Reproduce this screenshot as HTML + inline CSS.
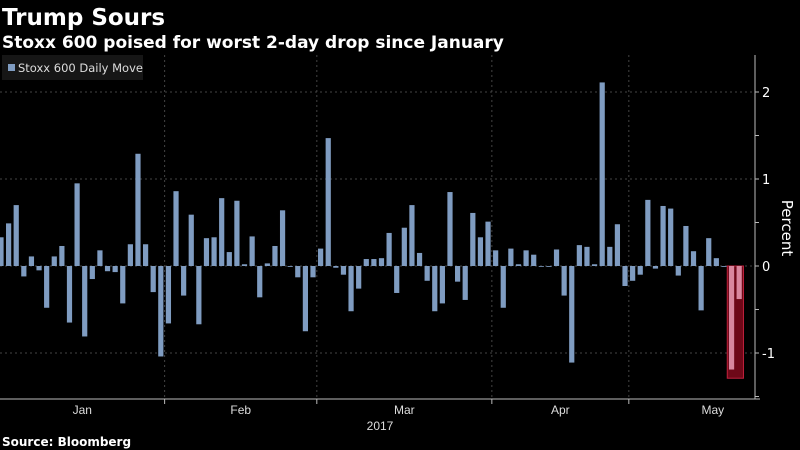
<!DOCTYPE html>
<html><head><meta charset="utf-8"><style>
body{margin:0;background:#000;width:800px;height:450px;overflow:hidden;font-family:"Liberation Sans","DejaVu Sans",sans-serif;}
svg{display:block}
</style></head><body>
<svg width="800" height="450" xmlns="http://www.w3.org/2000/svg">
<text x="2" y="25" fill="#fff" font-size="23" font-weight="bold" font-family="DejaVu Sans, sans-serif">Trump Sours</text>
<text x="2" y="48" fill="#fff" font-size="17" font-weight="bold" font-family="DejaVu Sans, sans-serif">Stoxx 600 poised for worst 2-day drop since January</text>
<g id="grid"></g>
<g id="bars"></g>
<g id="axes"></g>
<g>
<rect x="2" y="55" width="141" height="25" fill="#161616"/>
<rect x="8" y="64" width="7" height="7" fill="#7f9cc1"/>
<text x="18" y="72" fill="#ddd" font-size="11.5" font-family="DejaVu Sans, sans-serif">Stoxx 600 Daily Move</text>
</g>
<text x="2" y="446" fill="#fff" font-size="12" font-weight="bold" font-family="DejaVu Sans, sans-serif">Source: Bloomberg</text>
</svg>
<script>
const values=[0.33,0.49,0.70,-0.12,0.11,-0.05,-0.48,0.11,0.23,-0.65,0.95,-0.81,-0.15,0.18,-0.06,-0.07,-0.43,0.25,1.29,0.25,-0.30,-1.04,-0.66,0.86,-0.34,0.59,-0.67,
0.32,0.33,0.78,0.16,0.75,0.02,0.34,-0.36,0.03,0.23,0.64,-0.01,-0.13,-0.75,-0.13,0.20,1.47,-0.02,-0.10,-0.52,-0.26,0.08,0.08,0.09,0.38,
-0.31,0.44,0.70,0.15,-0.17,-0.52,-0.43,0.85,-0.18,-0.39,0.61,0.33,0.51,0.18,-0.48,0.20,0.02,0.18,0.13,0.00,-0.01,0.19,-0.34,-1.11,0.24,0.22,
0.02,2.11,0.22,0.48,-0.23,-0.17,-0.10,0.76,-0.03,0.69,0.66,-0.11,0.46,0.17,-0.51,0.32,0.09,-0.01,-1.19,-0.38];
const highlighted=[96,97];
const yTicks=[2,1,0,-1];
const months=["Jan","Feb","Mar","Apr","May"];
const monthStarts=[0,22,42,65,83];
const NS="http://www.w3.org/2000/svg";
function mk(t,a,p){const e=document.createElementNS(NS,t);for(const k in a)e.setAttribute(k,a[k]);p.appendChild(e);return e;}
const x0=1,step=7.61,zeroY=266,unit=87;
const xs=i=>x0+step*i;
const ys=v=>zeroY-v*unit;
const grid=document.getElementById('grid'),bars=document.getElementById('bars'),axes=document.getElementById('axes');
yTicks.forEach(t=>{const l=mk('line',{x1:0,x2:755,y1:ys(t),y2:ys(t),stroke:'#444','stroke-dasharray':'2,3'},grid);

});
const bx=[];
for(let m=1;m<monthStarts.length;m++){const b=xs(monthStarts[m])-step/2;bx.push(b);
const l=mk('line',{x1:b,x2:b,y1:55,y2:399,stroke:'#444','stroke-dasharray':'2,3'},grid);

}
const h0=xs(highlighted[0])-step/2-0.5,h1=xs(highlighted[highlighted.length-1])+step/2+0.5;
const hmin=Math.min(...highlighted.map(i=>values[i]));
const hb=mk('rect',{x:h0,y:ys(0),width:h1-h0,height:ys(hmin-0.1)-ys(0),fill:'#6e0818',stroke:'#c0203c','stroke-width':1},bars);


values.forEach((v,i)=>{const hi=highlighted.includes(i);
const r=mk('rect',{x:xs(i)-2.6,y:Math.min(ys(v),ys(0)),width:5.2,height:Math.max(Math.abs(ys(v)-ys(0)),0.8),fill:hi?'#d9879f':'#7f9cc1'},bars);

});
const ya=mk('line',{x1:755,x2:755,y1:55,y2:399,stroke:'#bbb'},axes);


for(let v=-1.5;v<=2.01;v+=0.5){mk('line',{x1:755,x2:759,y1:ys(v),y2:ys(v),stroke:'#bbb'},axes);}
yTicks.forEach(t=>{const tx=mk('text',{x:762,y:ys(t)+5,fill:'#fff','font-size':13,'font-family':'DejaVu Sans, sans-serif'},axes);tx.textContent=t;

});
const yt=mk('text',{x:0,y:0,fill:'#fff','font-size':15,'font-family':'DejaVu Sans, sans-serif','text-anchor':'middle',transform:'translate(782,228) rotate(90)'},axes);yt.textContent='Percent';


const xa=mk('line',{x1:0,x2:760,y1:399,y2:399,stroke:'#bbb'},axes);


bx.forEach(b=>mk('line',{x1:b,x2:b,y1:399,y2:404,stroke:'#bbb'},axes));
const edges=[0,...bx];
months.forEach((m,i)=>{const cx=i<edges.length-1?(edges[i]+edges[i+1])/2:edges[i]+84;
const tx=mk('text',{x:cx,y:414,fill:'#ddd','font-size':12,'text-anchor':'middle','font-family':'Liberation Sans, sans-serif'},axes);tx.textContent=m;

});
const yr=mk('text',{x:380,y:430,fill:'#ddd','font-size':12,'text-anchor':'middle','font-family':'Liberation Sans, sans-serif'},axes);yr.textContent='2017';


</script>
</body></html>
